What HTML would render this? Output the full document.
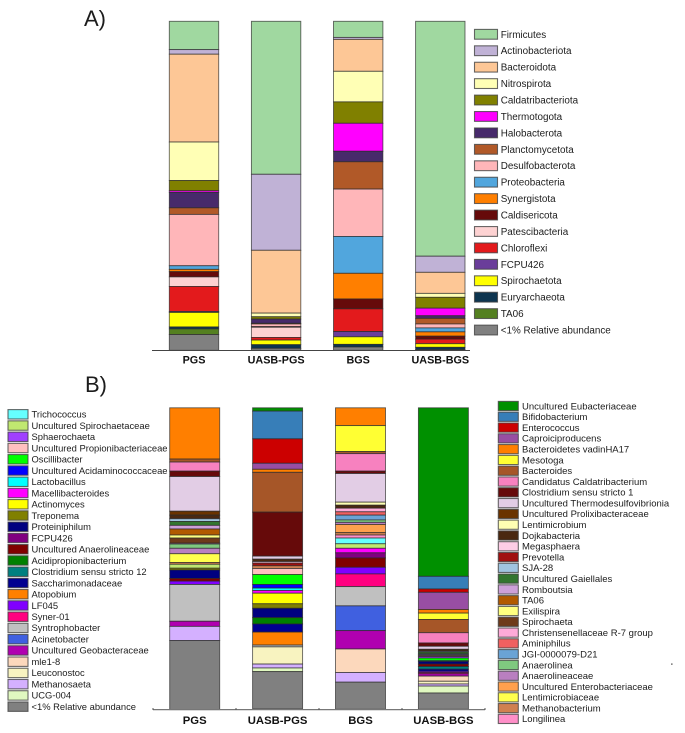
<!DOCTYPE html>
<html lang="en">
<head>
<meta charset="utf-8">
<title>Relative abundance stacked bars</title>
<style>
html,body{margin:0;padding:0;background:#fff;width:685px;height:733px;overflow:hidden}
svg{display:block;position:absolute;left:0;top:0;filter:blur(0.3px)}
text{font-family:"Liberation Sans",Arial,sans-serif;fill:#1c1c1c}
</style>
</head>
<body>
<svg id="fig" width="685" height="733" viewBox="0 0 685 733" xmlns="http://www.w3.org/2000/svg">
<text x="84" y="26" font-size="22">A)</text>
<text x="85" y="392" font-size="22">B)</text>
<g id="panelA"></g>
<g id="panelB"></g>
<rect x="671" y="663.5" width="1.6" height="1.2" fill="#555"/>
</svg>
<script>
const samples = ["PGS", "UASB-PGS", "BGS", "UASB-BGS"];

const taxaA = ["Firmicutes","Actinobacteriota","Bacteroidota","Nitrospirota","Caldatribacteriota","Thermotogota","Halobacterota","Planctomycetota","Desulfobacterota","Proteobacteria","Synergistota","Caldisericota","Patescibacteria","Chloroflexi","FCPU426","Spirochaetota","Euryarchaeota","TA06","<1% Relative abundance"];
const colorsA = ["#a0d8a0","#c0b2d6","#fdc796","#ffffb5","#808000","#ff00ff","#472a6b","#b15928","#ffb6b9","#51a6dd","#ff7f00","#660a0a","#fdd2d2","#e31a1c","#6a3d9a","#ffff00","#0d3550","#548020","#808080"];
const valuesA_PGS     = [8.6,1.4,26.7,11.7,3.1,0.5,4.7,2.0,15.6,1.1,0.7,1.6,2.9,7.6,0.3,4.4,0.6,1.7,4.8];
const valuesA_UASBPGS = [46.5,23.1,19.1,1.1,0.7,0,1.3,0.2,0.8,0,0,0.2,3.1,0.8,0,1.4,1.1,0,0.6];
const valuesA_BGS     = [4.9,0.6,9.7,9.3,6.5,8.5,3.2,8.3,14.4,11.2,7.8,3.0,0,6.9,1.6,2.3,0.8,0,1.0];
const valuesA_UASBBGS = [71.4,4.9,6.4,1.2,3.3,2.3,0.8,1.7,1.2,1.2,1.3,0.9,0,1.4,0,1.1,0.7,0,0.2];

const taxaBRight = ["Uncultured Eubacteriaceae","Bifidobacterium","Enterococcus","Caproiciproducens","Bacteroidetes vadinHA17","Mesotoga","Bacteroides","Candidatus Caldatribacterium","Clostridium sensu stricto 1","Uncultured Thermodesulfovibrionia","Uncultured Prolixibacteraceae","Lentimicrobium","Dojkabacteria","Megasphaera","Prevotella","SJA-28","Uncultured Gaiellales","Romboutsia","TA06","Exilispira","Spirochaeta","Christensenellaceae R-7 group","Aminiphilus","JGI-0000079-D21","Anaerolinea","Anaerolineaceae","Uncultured Enterobacteriaceae","Lentimicrobiaceae","Methanobacterium","Longilinea"];
const colorsBRight = ["#009000","#377eb8","#cc0000","#984ea3","#ff7f00","#ffff33","#a65628","#f781bf","#660a0a","#e2cde5","#6a3300","#ffffb3","#4a2810","#fccde5","#a01010","#a0c4e0","#33752f","#cda0d8","#b15a00","#ffff80","#6e3a1a","#ffaad8","#f06060","#6aa3d5","#7fc97f","#b97fc0","#ffa04d","#ffff4d","#d08050","#ff8fc8"];
const taxaBLeft = ["Trichococcus","Uncultured Spirochaetaceae","Sphaerochaeta","Uncultured Propionibacteriaceae","Oscillibacter","Uncultured Acidaminococcaceae","Lactobacillus","Macellibacteroides","Actinomyces","Treponema","Proteiniphilum","FCPU426","Uncultured Anaerolineaceae","Acidipropionibacterium","Clostridium sensu stricto 12","Saccharimonadaceae","Atopobium","LF045","Syner-01","Syntrophobacter","Acinetobacter","Uncultured Geobacteraceae","mle1-8","Leuconostoc","Methanosaeta","UCG-004","<1% Relative abundance"];
const colorsBLeft = ["#66ffff","#c0e870","#a040ff","#ffc0c0","#00ff00","#0000ff","#00ffff","#ff00ff","#ffff00","#808000","#000080","#800080","#800000","#008000","#008080","#000090","#ff8000","#8000ff","#ff0080","#c0c0c0","#4060e0","#b000b0","#fcd8bc","#f8f3c0","#d4b0ff","#e0f8c0","#808080"];

const valuesBRight_PGS = [0,0,0,0,17.0, 0,1.0,3.0,1.8,11.5, 1.3,0,1.2,0,0, 0.9,1.3,1.2,2.0,1.0, 1.7,0.3,0,0,1.4, 1.8,0,2.9,0.6,0];
const valuesBLeft_PGS  = [0,1.3,0,0,0, 0,0,0,0,0.6, 2.8,0,0.9,0,0, 0,0,1.1,0,12.2, 0,1.7,0,0,4.7, 0,22.9];
const valuesBRight_UASBPGS = [1.1,9.2,8.1,2.0,1.0, 0,13.2,0,14.6,1.0, 0,0,0.8,0.5,0.9, 0,0,0,0,0, 0,0,0,0,0, 0,0,0,0.9,0];
const valuesBLeft_UASBPGS  = [0,0,0,2.0,3.3, 1.2,0.8,0.9,3.5,1.5, 3.1,0,0,2.1,0, 2.7,4.3,0,0,0.6, 0,0,0,5.7,1.3, 1.2,12.4];
const valuesBRight_BGS = [0,0,0,0,5.9, 8.6,0.7,5.8,0.8,9.5, 0,1.0,1.0,0,0, 0,0,0,0,0, 0,1.2,1.1,1.6,0.8, 0.7,2.7,0,0.8,1.0];
const valuesBLeft_BGS  = [1.9,1.5,0,0,0, 0,0,1.5,0,0, 0,1.7,3.1,0,0, 0,0,2.2,4.2,6.4, 8.2,6.1,7.8,0,3.2, 0,9.0];
const valuesBRight_UASBBGS = [55.9,4.2,1.1,5.7,1.2, 2.1,4.4,3.4,1.1,1.0, 0,0,0.6,0,0, 0.3,0.6,0,0,0, 0,0,0,0.3,0, 0.3,0.3,0,0,0];
const valuesBLeft_UASBBGS  = [0,0,0.5,0,0.9, 0.3,0,0,0,0, 0.8,0,0.8,0,0.9, 0.7,0,0.4,0.4,0, 0,0.8,1.7,0.9,0.7, 2.3,5.4];

const NS = "http://www.w3.org/2000/svg";
const taxaB = taxaBRight.concat(taxaBLeft);
const colorsB = colorsBRight.concat(colorsBLeft);
const seriesA = [valuesA_PGS, valuesA_UASBPGS, valuesA_BGS, valuesA_UASBBGS];
const seriesB = [
  valuesBRight_PGS.concat(valuesBLeft_PGS),
  valuesBRight_UASBPGS.concat(valuesBLeft_UASBPGS),
  valuesBRight_BGS.concat(valuesBLeft_BGS),
  valuesBRight_UASBBGS.concat(valuesBLeft_UASBBGS)
];

function make(parent, tag, attrs) {
  const el = document.createElementNS(NS, tag);
  for (const k in attrs) el.setAttribute(k, attrs[k]);
  parent.appendChild(el);
  return el;
}
function slug(s) {
  return s.toLowerCase().replace(/<1%/g, "under-1pct").replace(/[^a-z0-9]+/g, "-").replace(/^-|-$/g, "");
}

function drawStack(group, series, taxa, colors, xScale, yScale, barWidth, prefix) {
  series.forEach(function (vals, s) {
    let cum = 0;
    vals.forEach(function (v, i) {
      if (v <= 0) return;
      const y0 = yScale(cum);
      const y1 = yScale(cum + v);
      const r = make(group, "rect", {x: xScale(s), y: y0, width: barWidth, height: y1 - y0, fill: colors[i], stroke: "#2a2a2a", "stroke-width": 0.9, "stroke-opacity": 0.72});
      
      
      cum += v;
    });
  });
}
function drawLegend(group, taxa, colors, swX, swW, swH, firstY, step, txtX, fs, prefix) {
  taxa.forEach(function (name, i) {
    const cy = firstY + i * step;
    const sw = make(group, "rect", {x: swX, y: cy - swH / 2, width: swW, height: swH, fill: colors[i], stroke: "#444", "stroke-width": 1.1, "stroke-opacity": 0.8});
    
    
    const t = make(group, "text", {x: txtX, y: cy + fs * 0.35, "font-size": fs});
    t.textContent = name;
    
    
  });
}
function drawSampleLabels(group, xScale, barWidth, y, fs, prefix) {
  samples.forEach(function (name, s) {
    const t = make(group, "text", {x: xScale(s) + barWidth / 2, y: y, "font-size": fs, "font-weight": "bold", "text-anchor": "middle", style: "fill:#111"});
    t.textContent = name;
    
    
  });
}

/* Panel A */
const gA = document.getElementById("panelA");
const xA = function (i) { return 169.3 + i * 82.1; };
const yA = function (pct) { return 21.3 + pct * 3.29; };
drawStack(gA, seriesA, taxaA, colorsA, xA, yA, 49.4, "a");
const axisA = make(gA, "line", {x1: 152, x2: 470, y1: 350.5, y2: 350.5, stroke: "#444", "stroke-width": 1});


drawSampleLabels(gA, xA, 49.4, 363.5, 10.8, "a");
drawLegend(gA, taxaA, colorsA, 474.5, 23, 9.8, 34.3, 16.43, 500.7, 9.9, "a");

/* Panel B */
const gB = document.getElementById("panelB");
const xB = function (i) { return 169.7 + i * 82.9; };
const yB = function (pct) { return 407.8 + pct * 3.015; };
drawStack(gB, seriesB, taxaB, colorsB, xB, yB, 50, "b");
const axisB = make(gB, "line", {x1: 153, x2: 485, y1: 709.6, y2: 709.6, stroke: "#777", "stroke-width": 1.2});


[0, 1, 2, 3, 4].forEach(function (i) {
  const tk = make(gB, "line", {x1: 153 + i * 83, x2: 153 + i * 83, y1: 708, y2: 710, stroke: "#555", "stroke-width": 1});
  
  
});
drawSampleLabels(gB, xB, 50, 724, 11.3, "b");
drawLegend(gB, taxaBLeft, colorsBLeft, 8, 20, 9.4, 414.3, 11.245, 31.5, 9.4, "b-left");
drawLegend(gB, taxaBRight, colorsBRight, 498.3, 20, 9.2, 406, 10.79, 522, 9.5, "b-right");
</script>
</body>
</html>
